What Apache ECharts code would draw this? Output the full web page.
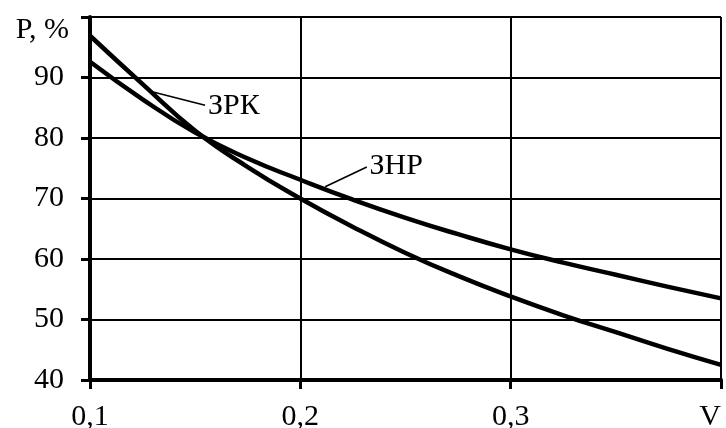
<!DOCTYPE html>
<html>
<head>
<meta charset="utf-8">
<script src="https://cdn.jsdelivr.net/npm/echarts@6/dist/echarts.min.js"></script>
<style>
html,body{margin:0;padding:0;background:#fff;}
#chart{width:726px;height:428px;}
</style>
</head>
<body>
<div id="chart"></div>
<script>
// ---- data ----
var vValues   = [0.1, 0.125, 0.15, 0.175, 0.2, 0.225, 0.25, 0.275, 0.3, 0.325, 0.35, 0.375, 0.4];
var zrkValues = [96.9, 88.9, 81.2, 75.2, 70.0, 65.3, 61.0, 57.2, 53.8, 50.7, 47.9, 45.1, 42.5];
var znrValues = [92.6, 86.4, 80.9, 76.6, 73.1, 69.8, 66.8, 64.1, 61.6, 59.4, 57.4, 55.4, 53.5];
var seriesNames = ['ЗРК', 'ЗНР'];
var xTicks = [0.1, 0.2, 0.3, 0.4];
var xTickLabels = ['0,1', '0,2', '0,3', 'V'];
var yTicks = [40, 50, 60, 70, 80, 90, 100];
var yTickLabels = ['40', '50', '60', '70', '80', '90', ''];
var yAxisName = 'P, %';
// leader lines for curve labels: [point on curve], [label end] in data units
var zrkLeader = [[0.130, 87.6], [0.1547, 85.4]];
var znrLeader = [[0.2118, 71.95], [0.2316, 75.2]];

var FONT = "'Liberation Serif','Times New Roman',serif";
var FS = 30;

function pair(xs, ys) { return xs.map(function (x, i) { return [x, ys[i]]; }); }
function findLabel(ticks, labels, v) {
  for (var i = 0; i < ticks.length; i++) if (Math.abs(ticks[i] - v) < 1e-6) return labels[i];
  return '';
}
function leader(pts, name) {
  return {
    silent: true,
    symbol: 'none',
    lineStyle: { color: '#000', width: 1.6, type: 'solid' },
    label: {
      show: true, position: 'end', formatter: name, distance: 3,
      fontFamily: FONT, fontSize: FS, color: '#000'
    },
    data: [[{ coord: pts[0] }, { coord: pts[1] }]]
  };
}

var chart = echarts.init(document.getElementById('chart'), null, { renderer: 'canvas' });
chart.setOption({
  animation: false,
  backgroundColor: '#fff',
  grid: { left: 90, right: 5, top: 17, bottom: 48, containLabel: false, outerBoundsMode: 'none' },
  xAxis: {
    type: 'value', min: 0.1, max: 0.4, interval: 0.1,
    axisLine: { show: true, lineStyle: { color: '#000', width: 4 } },
    axisTick: { show: true, inside: false, length: 9, lineStyle: { color: '#000', width: 3 } },
    axisLabel: {
      margin: 22, color: '#000', fontFamily: FONT, fontSize: FS,
      alignMaxLabel: 'right',
      formatter: function (v) { return findLabel(xTicks, xTickLabels, v); }
    },
    splitLine: { show: true, lineStyle: { color: '#000', width: 2 } }
  },
  yAxis: {
    type: 'value', min: 40, max: 100, interval: 10,
    name: yAxisName, nameLocation: 'end', nameGap: -13,
    nameTextStyle: {
      fontFamily: FONT, fontSize: FS, color: '#000',
      align: 'right', verticalAlign: 'middle', padding: [0, 21, 0, 0]
    },
    axisLine: { show: true, lineStyle: { color: '#000', width: 4 } },
    axisTick: { show: true, inside: false, length: 9, lineStyle: { color: '#000', width: 3 } },
    axisLabel: {
      margin: 26, color: '#000', fontFamily: FONT, fontSize: FS,
      formatter: function (v) { return findLabel(yTicks, yTickLabels, v); }
    },
    splitLine: { show: true, lineStyle: { color: '#000', width: 2 } }
  },
  series: [
    {
      name: seriesNames[0], type: 'line', data: pair(vValues, zrkValues),
      smooth: 0.5, showSymbol: false, symbol: 'none',
      lineStyle: { color: '#000', width: 4.5 },
      markLine: leader(zrkLeader, seriesNames[0]), z: 3
    },
    {
      name: seriesNames[1], type: 'line', data: pair(vValues, znrValues),
      smooth: 0.5, showSymbol: false, symbol: 'none',
      lineStyle: { color: '#000', width: 4.5 },
      markLine: leader(znrLeader, seriesNames[1]), z: 3
    }
  ]
});
</script>
</body>
</html>
